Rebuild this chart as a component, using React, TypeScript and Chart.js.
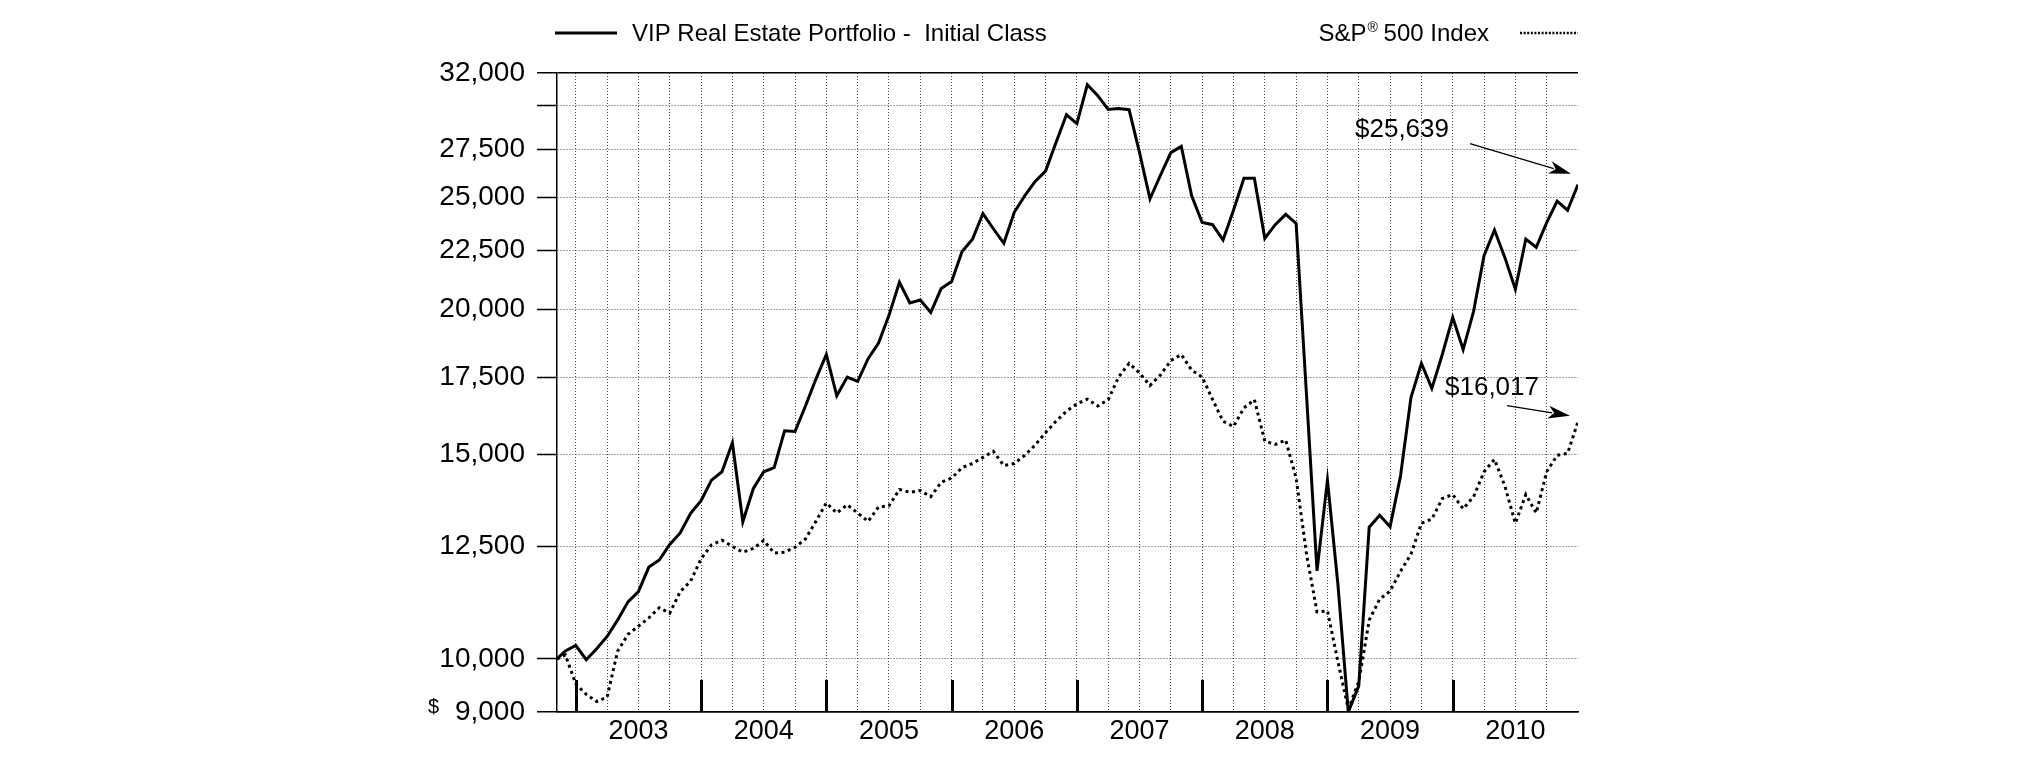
import { useEffect, useRef } from 'react';
import { Chart, registerables } from 'chart.js';

Chart.register(...registerables);

const FONT = '"Liberation Sans", Arial, Helvetica, sans-serif';
const GRID = 'rgba(0,0,0,0.72)';

// Series names (legend)
const seriesNames = ['VIP Real Estate Portfolio -  Initial Class', 'S&P® 500 Index'];

// Months measured from Dec 31, 2002. First point = inception (Nov 6, 2002),
// then month-ends Nov 2002 … Dec 2010 (offsets -1, 0, 1, … 96).
const inceptionOffset = -1.8;
const lastOffset = 96;

// Hypothetical $10,000 investment – VIP Real Estate Portfolio - Initial Class
const realEstate = [
  10000, 10160,
  10270, 9985, 10205, 10456, 10800, 11200, 11430, 12000, 12170, 12550, 12840, 13350,
  13690, 14260, 14500, 15360, 13130, 14020, 14500, 14620, 15730, 15710, 16520, 17430,
  18300, 16860, 17500, 17350, 18150, 18720, 19780, 21120, 20270, 20390, 19890, 20860,
  21150, 22450, 23010, 24210, 23490, 22820, 24270, 25070, 25800, 26340, 27880, 29450,
  28940, 31270, 30590, 29770, 29820, 29750, 27320, 24930, 26120, 27320, 27660, 25070,
  23780, 23680, 22970, 24370, 25970, 25970, 23050, 23680, 24170, 23740, 16860, 11910,
  14260, 11600, 9000, 9480, 12990, 13300, 13000, 14380, 16800, 17980, 17110, 18300,
  19700, 18480, 19940, 22270, 23430, 22180, 20830, 23010, 22640, 23780, 24810, 24370,
  25639,
];

// S&P 500 Index
const sp500 = [
  10000, 10080,
  9515, 9320, 9190, 9270, 10150, 10500, 10670, 10850, 11070, 10950, 11430, 11670,
  12200, 12540, 12660, 12500, 12360, 12450, 12650, 12340, 12360, 12480, 12690, 13140,
  13630, 13360, 13580, 13360, 13140, 13520, 13550, 14000, 13920, 13970, 13800, 14200,
  14320, 14620, 14740, 14920, 15100, 14680, 14740, 14980, 15290, 15670, 16030, 16350,
  16590, 16750, 16520, 16730, 17500, 17980, 17640, 17210, 17570, 18080, 18300, 17740,
  17500, 16730, 16030, 15860, 16460, 16730, 15410, 15310, 15440, 14320, 12300, 10980,
  11000, 9950, 9050, 9560, 10800, 11260, 11440, 11900, 12310, 13090, 13200, 13750,
  13860, 13470, 13800, 14500, 14860, 14090, 13090, 13860, 13360, 14500, 14980, 15040,
  16017,
];

// X axis: year labels (centred mid-year), year boundary ticks, quarterly grid
const yearLabels = ['2003', '2004', '2005', '2006', '2007', '2008', '2009', '2010'];
const quarterGridMonths = [
  0, 3, 6, 9, 12, 15, 18, 21, 24, 27, 30, 33, 36, 39, 42, 45,
  48, 51, 54, 57, 60, 63, 66, 69, 72, 75, 78, 81, 84, 87, 90, 93,
];

// Y axis (log scale) ticks
const yMin = 9000;
const yMax = 32000;
const yTickValues = [9000, 10000, 12500, 15000, 17500, 20000, 22500, 25000, 27500, 30000, 32000];
const yUnlabeled = [30000];

const toPoints = (vals: number[]) =>
  vals.map((v, i) => ({ x: i === 0 ? inceptionOffset : i - 2, y: v }));

const fmt = (v: number) => Math.round(v).toLocaleString('en-US');

function drawArrow(ctx: CanvasRenderingContext2D, x1: number, y1: number, x2: number, y2: number) {
  const ang = Math.atan2(y2 - y1, x2 - x1);
  const headLen = 22;
  const headW = 6.5;
  const bx = x2 - headLen * Math.cos(ang);
  const by = y2 - headLen * Math.sin(ang);
  ctx.beginPath();
  ctx.moveTo(x1, y1);
  ctx.lineTo(bx + 4 * Math.cos(ang), by + 4 * Math.sin(ang));
  ctx.lineWidth = 1.3;
  ctx.stroke();
  ctx.beginPath();
  ctx.moveTo(x2, y2);
  ctx.lineTo(bx + headW * Math.sin(ang), by - headW * Math.cos(ang));
  ctx.lineTo(bx + 6 * Math.cos(ang), by + 6 * Math.sin(ang));
  ctx.lineTo(bx - headW * Math.sin(ang), by + headW * Math.cos(ang));
  ctx.closePath();
  ctx.fill();
}

const overlayPlugin = {
  id: 'overlay',
  beforeDatasetsDraw(chart: any) {
    const { ctx, chartArea, scales } = chart;
    const xs = scales.x;
    ctx.save();
    ctx.strokeStyle = '#000';
    ctx.lineWidth = 3;
    ctx.setLineDash([]);
    yearLabels.forEach((_, i) => {
      const x = Math.round(xs.getPixelForValue(i * 12)) + 0.5;
      ctx.beginPath();
      ctx.moveTo(x, chartArea.bottom);
      ctx.lineTo(x, chartArea.bottom - 32);
      ctx.stroke();
    });
    ctx.restore();
  },
  afterDraw(chart: any) {
    const { ctx, chartArea, scales } = chart;
    const xs = scales.x;
    const ys = scales.y;
    ctx.save();
    ctx.fillStyle = '#000';
    ctx.strokeStyle = '#000';
    ctx.setLineDash([]);

    // Legend
    const ly = 33;
    ctx.lineWidth = 3;
    ctx.beginPath();
    ctx.moveTo(chartArea.left - 2, ly);
    ctx.lineTo(chartArea.left + 60, ly);
    ctx.stroke();
    ctx.font = `24px ${FONT}`;
    ctx.textBaseline = 'middle';
    ctx.textAlign = 'left';
    ctx.fillText(seriesNames[0], chartArea.left + 75, ly + 1);

    const [pre, post] = seriesNames[1].split('®');
    ctx.font = `24px ${FONT}`;
    const wPre = ctx.measureText(pre).width;
    const wPost = ctx.measureText(post).width;
    ctx.font = `14px ${FONT}`;
    const wReg = ctx.measureText('®').width;
    let x = chartArea.right - 89 - (wPre + wReg + wPost);
    ctx.font = `24px ${FONT}`;
    ctx.fillText(pre, x, ly + 1);
    x += wPre;
    ctx.font = `14px ${FONT}`;
    ctx.fillText('®', x + 1, ly - 5);
    x += wReg;
    ctx.font = `24px ${FONT}`;
    ctx.fillText(post, x, ly + 1);

    ctx.lineWidth = 2.5;
    ctx.setLineDash([2, 1.6]);
    ctx.beginPath();
    ctx.moveTo(chartArea.right - 58, ly);
    ctx.lineTo(chartArea.right, ly);
    ctx.stroke();
    ctx.setLineDash([]);

    // Small "$" before the lowest y tick label
    ctx.font = `20px ${FONT}`;
    ctx.fillText('$', chartArea.left - 129, ys.getPixelForValue(yMin) - 5);

    // End value annotations with arrows
    ctx.font = `26px ${FONT}`;
    const px = xs.getPixelForValue(lastOffset);
    const reLast = realEstate[realEstate.length - 1];
    const spLast = sp500[sp500.length - 1];
    const pyRe = ys.getPixelForValue(reLast);
    const pySp = ys.getPixelForValue(spLast);

    ctx.fillText('$' + fmt(reLast), px - 223, pyRe - 55);
    drawArrow(ctx, px - 108, pyRe - 41, px - 7, pyRe - 11);

    ctx.fillText('$' + fmt(spLast), px - 133, pySp - 34);
    drawArrow(ctx, px - 71, pySp - 16, px - 8, pySp - 6);

    ctx.restore();
  },
};

export default function App() {
  const ref = useRef<HTMLCanvasElement>(null);

  useEffect(() => {
    const canvas = ref.current;
    if (!canvas) return;

    const isEdge = (c: any) => c.tick && (c.tick.value === yMax || c.tick.value === yMin);

    const chart = new Chart(canvas, {
      type: 'line',
      data: {
        datasets: [
          {
            label: seriesNames[0],
            data: toPoints(realEstate),
            borderColor: '#000',
            borderWidth: 3,
            pointRadius: 0,
            tension: 0,
            fill: false,
          },
          {
            label: seriesNames[1],
            data: toPoints(sp500),
            borderColor: '#000',
            borderWidth: 3,
            borderDash: [3, 3.6],
            borderCapStyle: 'butt',
            pointRadius: 0,
            tension: 0,
            fill: false,
          },
        ],
      },
      options: {
        responsive: false,
        maintainAspectRatio: false,
        animation: false,
        devicePixelRatio: 1,
        events: [],
        layout: { padding: { top: 73, right: 447, bottom: 0, left: 0 } },
        plugins: {
          legend: { display: false },
          title: { display: false },
          tooltip: { enabled: false },
        },
        scales: {
          x: {
            type: 'linear',
            min: inceptionOffset,
            max: lastOffset,
            afterBuildTicks: (s: any) => {
              s.ticks = quarterGridMonths.map((v) => ({ value: v }));
            },
            afterFit: (s: any) => {
              s.height = 49;
            },
            grid: { color: GRID, lineWidth: 1, drawTicks: false },
            border: { display: true, color: '#000', width: 1.5, dash: [1, 2] },
            ticks: {
              autoSkip: false,
              maxRotation: 0,
              minRotation: 0,
              padding: 3,
              color: '#000',
              font: { family: FONT, size: 27 },
              callback: (v: any) => {
                const n = Number(v);
                return n % 12 === 6 ? yearLabels[(n - 6) / 12] : '';
              },
            },
          },
          y: {
            type: 'logarithmic',
            min: yMin,
            max: yMax,
            afterBuildTicks: (s: any) => {
              s.ticks = yTickValues.map((v) => ({ value: v }));
            },
            afterFit: (s: any) => {
              s.width = 557;
            },
            grid: {
              color: (c: any) => (isEdge(c) ? '#000' : GRID),
              lineWidth: (c: any) => (isEdge(c) ? 1.5 : 1),
              drawTicks: true,
              tickLength: 20,
              tickColor: '#000',
              tickWidth: 1.5,
              tickBorderDash: [],
            },
            border: {
              display: true,
              color: '#000',
              width: 1.5,
              dash: (c: any) => (isEdge(c) ? [] : [1, 2]),
            },
            ticks: {
              autoSkip: false,
              padding: 12,
              color: '#000',
              font: { family: FONT, size: 28 },
              callback: (v: any) => {
                const n = Number(v);
                return yUnlabeled.includes(n) ? '' : fmt(n);
              },
            },
          },
        },
      } as any,
      plugins: [overlayPlugin],
    });

    return () => chart.destroy();
  }, []);

  return (
    <div style={{ position: 'absolute', left: 0, top: 0, width: 2025, height: 761, background: '#fff' }}>
      <canvas ref={ref} width={2025} height={761} style={{ display: 'block', width: 2025, height: 761 }} />
    </div>
  );
}
